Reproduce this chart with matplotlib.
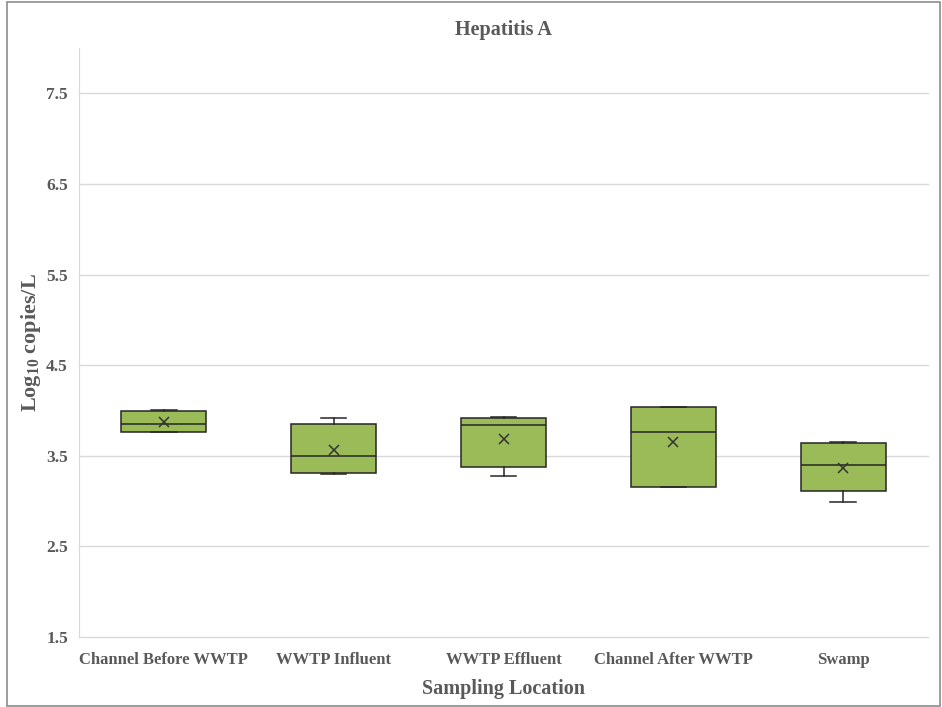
import matplotlib.pyplot as plt
from matplotlib.patches import Rectangle

# summary statistics per sampling site (log10 copies/L)
sites = ["Channel Before WWTP", "WWTP Influent", "WWTP Effluent",
         "Channel After WWTP", "Swamp"]
whisker_low = [3.76, 3.30, 3.28, 3.15, 2.99]
q1 = [3.76, 3.31, 3.38, 3.15, 3.11]
median = [3.85, 3.50, 3.84, 3.76, 3.40]
q3 = [3.99, 3.85, 3.92, 4.04, 3.64]
whisker_high = [4.01, 3.92, 3.93, 4.04, 3.65]
mean = [3.87, 3.56, 3.68, 3.65, 3.37]
yticks = [1.5, 2.5, 3.5, 4.5, 5.5, 6.5, 7.5]

TXT = "#595959"
plt.rcParams["font.family"] = ["Liberation Serif", "DejaVu Serif"]
plt.rcParams["font.weight"] = "bold"
plt.rcParams["mathtext.default"] = "regular"

fig = plt.figure(figsize=(9.42, 7.07), dpi=100)
ax = fig.add_axes([79 / 942, 1 - 637 / 707, 849 / 942, 589 / 707])
fig.patches.append(Rectangle((7 / 942, 1 / 707), 933 / 942, 704 / 707, transform=fig.transFigure,
                             fill=False, edgecolor="#8c8c8c", linewidth=1.2))

stats = []
for name, lo, a, m, b, hi, mu in zip(sites, whisker_low, q1, median, q3, whisker_high, mean):
    stats.append(dict(label=name, whislo=lo, q1=a, med=m, q3=b, whishi=hi, mean=mu, fliers=[]))

ax.bxp(stats, positions=range(1, 6), widths=0.5, capwidths=0.15,
       patch_artist=True, showmeans=True, showfliers=False,
       boxprops=dict(facecolor="#9bbb59", edgecolor="#262626", linewidth=1.1),
       medianprops=dict(color="#262626", linewidth=1.1),
       whiskerprops=dict(color="#262626", linewidth=1.1),
       capprops=dict(color="#262626", linewidth=1.1),
       meanprops=dict(marker="x", markeredgecolor="#333333", markersize=7, markeredgewidth=1.1),
       zorder=3)

ax.set_xlim(0.5, 5.5)
ax.set_ylim(1.5, 8.0)
ax.set_yticks(yticks)
ax.set_yticklabels([f"{v:.1f}" for v in yticks])
ax.grid(axis="y", color="#d9d9d9", linewidth=1, zorder=0)
for gl in ax.get_ygridlines():
    gl.set_clip_on(False)
ax.set_axisbelow(True)
ax.tick_params(length=0, labelcolor=TXT)
ax.tick_params(axis="x", pad=11, labelsize=12)
ax.tick_params(axis="y", pad=8, labelsize=12.5)
for side in ["top", "right", "bottom"]:
    ax.spines[side].set_visible(False)
ax.spines["left"].set_color("#d9d9d9")

ax.set_title("Hepatitis A", fontsize=14.5, color=TXT, fontweight="bold", pad=9)
ax.set_xlabel("Sampling Location", fontsize=14.5, color=TXT, fontweight="bold", labelpad=8)
ax.set_ylabel("Log$_{10}$ copies/L", fontsize=16, color=TXT, fontweight="bold", labelpad=2)

fig.savefig("out.png", dpi=100)
